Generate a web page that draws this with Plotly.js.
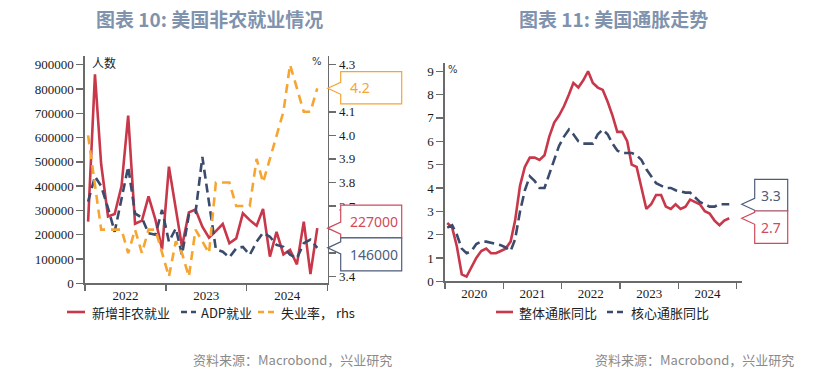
<!DOCTYPE html>
<html>
<head>
<meta charset="utf-8">
<script src="https://cdn.plot.ly/plotly-3.0.1.min.js"></script>
<style>
html,body{margin:0;padding:0;background:#fff;}
#chart{width:830px;height:378px;}
</style>
</head>
<body>
<div id="chart"></div>
<script>
// ---------- Data ----------
// Left chart: Jan 2022 - Nov 2024 (monthly)
const jobsStart = [2022, 1];
const nonfarmPayrolls = [
  254000, 860000, 490000, 275000, 285000, 400000, 690000, 245000, 258000, 358000, 262000, 140000,
  480000, 300000, 151000, 292000, 304000, 233000, 188000, 215000, 244000, 165000, 185000, 288000,
  260000, 237000, 306000, 110000, 212000, 119000, 137000, 78000, 254000, 38000, 227000
];
const adpEmployment = [
  336000, 440000, 400000, 310000, 212000, 350000, 480000, 288000, 270000, 206000, 200000, 302000,
  171000, 226000, 117000, 281000, 290000, 520000, 330000, 140000, 130000, 107000, 144000, 150000,
  117000, 171000, 208000, 192000, 158000, 150000, 118000, 103000, 165000, 180000, 146000
];
const unemploymentRate = [
  4.0, 3.8, 3.6, 3.6, 3.6, 3.6, 3.5, 3.6, 3.5, 3.6, 3.6, 3.5,
  3.4, 3.55, 3.5, 3.4, 3.6, 3.55, 3.5, 3.8, 3.8, 3.8, 3.7, 3.7,
  3.7, 3.9, 3.8, 3.9, 4.0, 4.1, 4.3, 4.2, 4.1, 4.1, 4.2
];
// Right-axis tick labels (those covered by the value tags are left blank)
const rhsTickVals = [3.4, 3.5, 3.6, 3.7, 3.8, 3.9, 4.0, 4.1, 4.2, 4.3];
const rhsTickText = ['3.4', '', '', '3.7', '3.8', '3.9', '4.0', '4.1', '', '4.3'];
// Right chart: Jan 2020 - Nov 2024 (monthly)
const cpiStart = [2020, 1];
const headlineCPI = [
  2.5, 2.3, 1.5, 0.3, 0.2, 0.6, 1.0, 1.3, 1.4, 1.2, 1.2, 1.3,
  1.4, 1.7, 2.6, 4.1, 4.9, 5.3, 5.3, 5.2, 5.4, 6.2, 6.8, 7.1,
  7.5, 8.0, 8.5, 8.3, 8.6, 9.0, 8.5, 8.3, 8.2, 7.7, 7.1, 6.4,
  6.4, 6.0, 5.0, 4.9, 4.0, 3.1, 3.3, 3.7, 3.7, 3.2, 3.1, 3.3,
  3.1, 3.2, 3.5, 3.4, 3.3, 3.0, 2.9, 2.6, 2.4, 2.6, 2.7
];
const coreCPI = [
  2.3, 2.4, 2.0, 1.4, 1.2, 1.3, 1.6, 1.7, 1.7, 1.65, 1.6, 1.55,
  1.45, 1.3, 1.8, 3.0, 3.9, 4.5, 4.3, 4.0, 4.0, 4.6, 5.2, 5.8,
  6.2, 6.5, 6.3, 6.0, 5.9, 5.9, 5.9, 6.3, 6.5, 6.3, 5.9, 5.6,
  5.5, 5.5, 5.5, 5.4, 5.2, 4.8, 4.5, 4.2, 4.1, 4.0, 4.0, 3.9,
  3.85, 3.8, 3.8, 3.6, 3.4, 3.3, 3.2, 3.2, 3.3, 3.3, 3.3
];
const names = {
  nfp: '新增非农就业', adp: 'ADP就业', unemp: '失业率， rhs',
  cpi: '整体通胀同比', core: '核心通胀同比'
};
const titles = ['图表 10: 美国非农就业情况', '图表 11: 美国通胀走势'];
const sourceText = '资料来源：Macrobond，兴业研究';

// ---------- Helpers ----------
function monthDates(start, n) {
  const out = [];
  let y = start[0], m = start[1];
  for (let i = 0; i < n; i++) {
    out.push(y + '-' + String(m).padStart(2, '0') + '-15');
    m++; if (m > 12) { m = 1; y++; }
  }
  return out;
}
const jobsDates = monthDates(jobsStart, nonfarmPayrolls.length);
const cpiDates = monthDates(cpiStart, headlineCPI.length);

const W = 830, H = 378;
const px = v => v / W;
const py = v => 1 - v / H;

const RED = '#C8374A', NAVY = '#3B4B6B', ORANGE = '#F6A531';
const TICKFONT = {family: 'Liberation Serif, Times New Roman, serif', size: 13, color: '#1a1a1a'};
const CJK = 'Noto Sans CJK SC, Noto Sans, sans-serif';

const L = {x0: 85, x1: 327.7, top: 56, bottom: 283.3};
const R = {x0: 445, x1: 741.7, top: 63.3, bottom: 281.3};

const styles = {
  nfp: {color: RED, width: 2.6},
  adp: {color: NAVY, width: 2.6, dash: '9px,5px'},
  unemp: {color: ORANGE, width: 2.6, dash: '9px,6px'},
  cpi: {color: RED, width: 2.6},
  core: {color: NAVY, width: 2.6, dash: '10px,5px'}
};

const traces = [
  {x: jobsDates, y: nonfarmPayrolls, name: names.nfp, type: 'scatter', mode: 'lines',
   line: styles.nfp, xaxis: 'x', yaxis: 'y'},
  {x: jobsDates, y: adpEmployment, name: names.adp, type: 'scatter', mode: 'lines',
   line: styles.adp, xaxis: 'x', yaxis: 'y'},
  {x: jobsDates, y: unemploymentRate, name: names.unemp, type: 'scatter', mode: 'lines',
   line: styles.unemp, xaxis: 'x', yaxis: 'y2'},
  {x: cpiDates, y: headlineCPI, name: names.cpi, type: 'scatter', mode: 'lines',
   line: styles.cpi, xaxis: 'x2', yaxis: 'y3'},
  {x: cpiDates, y: coreCPI, name: names.core, type: 'scatter', mode: 'lines',
   line: styles.core, xaxis: 'x2', yaxis: 'y3'}
];

const axisCommon = {
  showline: true, linecolor: '#6b6b6b', linewidth: 1.6,
  ticks: 'outside', tickcolor: '#6b6b6b', tickwidth: 1.4, ticklen: 6,
  showgrid: false, zeroline: false, tickfont: TICKFONT, fixedrange: true
};

// Callout tags (speech-bubble shapes anchored to the last data value)
function callout(xAnchorPaper, yref, yval, up, down, width, color, text, textAlign) {
  const gap = 13, half = 6;
  const path = 'M0,0 L' + gap + ',' + half + ' L' + gap + ',' + up + ' L' + (gap + width) + ',' + up +
    ' L' + (gap + width) + ',' + (-down) + ' L' + gap + ',' + (-down) + ' L' + gap + ',' + (-half) + ' Z';
  const shape = {type: 'path', xref: 'paper', yref: yref, xsizemode: 'pixel', ysizemode: 'pixel',
    xanchor: xAnchorPaper, yanchor: yval, path: path,
    line: {color: color, width: 1.2}, fillcolor: '#ffffff', layer: 'above'};
  const ann = {xref: 'paper', yref: yref, x: xAnchorPaper, y: yval,
    xanchor: textAlign === 'center' ? 'center' : 'left',
    xshift: textAlign === 'center' ? gap + width / 2 : gap + 7,
    yanchor: 'middle', yshift: (up - down) / 2,
    text: text, showarrow: false,
    font: {family: 'Noto Sans, DejaVu Sans, sans-serif', size: 14, color: color}};
  return {shape, ann};
}
const lastIdx = nonfarmPayrolls.length - 1;
const cLast = headlineCPI.length - 1;
const tags = [
  callout(px(L.x1), 'y2', unemploymentRate[lastIdx], 16.6, 15.7, 61, ORANGE, unemploymentRate[lastIdx].toFixed(1), 'left'),
  callout(px(L.x1), 'y', nonfarmPayrolls[lastIdx], 23, 9.5, 61, '#D04A5C', String(nonfarmPayrolls[lastIdx]), 'left'),
  callout(px(L.x1), 'y', adpEmployment[lastIdx], 10, 23, 61, '#4E5C7A', String(adpEmployment[lastIdx]), 'left'),
  callout(px(R.x1), 'y3', coreCPI[cLast], 25, 6.7, 33, '#4E5C7A', coreCPI[cLast].toFixed(1), 'center'),
  callout(px(R.x1), 'y3', headlineCPI[cLast], 7.3, 25, 33, '#D04A5C', headlineCPI[cLast].toFixed(1), 'center')
];

// Manual legends (sample line + label)
const legendY = 312;
const legendItems = [
  {key: 'nfp', s0: 67, s1: 85, tx: 90},
  {key: 'adp', s0: 181, s1: 196, tx: 199},
  {key: 'unemp', s0: 258, s1: 275, tx: 279},
  {key: 'cpi', s0: 496, s1: 513, tx: 517},
  {key: 'core', s0: 607, s1: 627, tx: 629}
];
const legendShapes = legendItems.map(it => ({
  type: 'line', xref: 'paper', yref: 'paper',
  x0: px(it.s0), x1: px(it.s1), y0: py(legendY), y1: py(legendY),
  line: {color: styles[it.key].color, width: 2.6, dash: styles[it.key].dash ? '6px,4px' : 'solid'}
}));
const legendAnns = legendItems.map(it => ({
  text: names[it.key], xref: 'paper', yref: 'paper', x: px(it.tx), y: py(legendY),
  xanchor: 'left', yanchor: 'middle', showarrow: false,
  font: {family: CJK, size: 13, color: '#222'}
}));

const annotations = [
  {text: '<b>' + titles[0] + '</b>', xref: 'paper', yref: 'paper', x: px(210), y: py(19),
   xanchor: 'center', yanchor: 'middle', showarrow: false,
   font: {family: CJK, size: 19, color: '#7F93AE'}},
  {text: '<b>' + titles[1] + '</b>', xref: 'paper', yref: 'paper', x: px(613), y: py(19),
   xanchor: 'center', yanchor: 'middle', showarrow: false,
   font: {family: CJK, size: 19, color: '#7F93AE'}},
  {text: sourceText, xref: 'paper', yref: 'paper', x: px(292), y: py(359),
   xanchor: 'center', yanchor: 'middle', showarrow: false,
   font: {family: CJK, size: 13, color: '#8a8a8a'}},
  {text: sourceText, xref: 'paper', yref: 'paper', x: px(694), y: py(359),
   xanchor: 'center', yanchor: 'middle', showarrow: false,
   font: {family: CJK, size: 13, color: '#8a8a8a'}},
  {text: '人数', xref: 'paper', yref: 'paper', x: px(90), y: py(63),
   xanchor: 'left', yanchor: 'middle', showarrow: false,
   font: {family: CJK, size: 12, color: '#222'}},
  {text: '%', xref: 'paper', yref: 'paper', x: px(317), y: py(62),
   xanchor: 'center', yanchor: 'middle', showarrow: false,
   font: {family: 'DejaVu Sans, sans-serif', size: 10, color: '#333'}},
  {text: '%', xref: 'paper', yref: 'paper', x: px(453), y: py(70),
   xanchor: 'center', yanchor: 'middle', showarrow: false,
   font: {family: 'DejaVu Sans, sans-serif', size: 10, color: '#333'}}
].concat(tags.map(t => t.ann)).concat(legendAnns);

const layout = {
  width: W, height: H,
  margin: {l: 0, r: 0, t: 0, b: 0},
  paper_bgcolor: '#ffffff', plot_bgcolor: 'rgba(0,0,0,0)',
  showlegend: false,
  xaxis: Object.assign({}, axisCommon, {
    type: 'date', domain: [px(L.x0), px(L.x1)], anchor: 'y',
    range: ['2022-01-01', '2025-01-01'], tick0: '2022-01-01', dtick: 'M12',
    tickformat: '%Y', ticklabelmode: 'period', ticklabelstandoff: -7
  }),
  yaxis: Object.assign({}, axisCommon, {
    domain: [py(L.bottom), py(L.top)], anchor: 'x',
    range: [0, 935800], dtick: 100000, tickformat: 'd', ticklen: 7
  }),
  yaxis2: Object.assign({}, axisCommon, {
    overlaying: 'y', side: 'right', anchor: 'x',
    range: [3.372, 4.337], tickmode: 'array', tickvals: rhsTickVals, ticktext: rhsTickText, ticklen: 7
  }),
  xaxis2: Object.assign({}, axisCommon, {
    type: 'date', domain: [px(R.x0), px(R.x1)], anchor: 'y3',
    range: ['2020-01-01', '2025-02-01'], tick0: '2020-01-01', dtick: 'M12',
    tickformat: '%Y', ticklabelmode: 'period', ticklabelstandoff: -7
  }),
  yaxis3: Object.assign({}, axisCommon, {
    domain: [py(R.bottom), py(R.top)], anchor: 'x2',
    range: [0, 9.34], dtick: 1, ticklen: 7
  }),
  shapes: tags.map(t => t.shape).concat(legendShapes),
  annotations: annotations
};

Plotly.newPlot('chart', traces, layout, {displayModeBar: false, staticPlot: true});
</script>
</body>
</html>
